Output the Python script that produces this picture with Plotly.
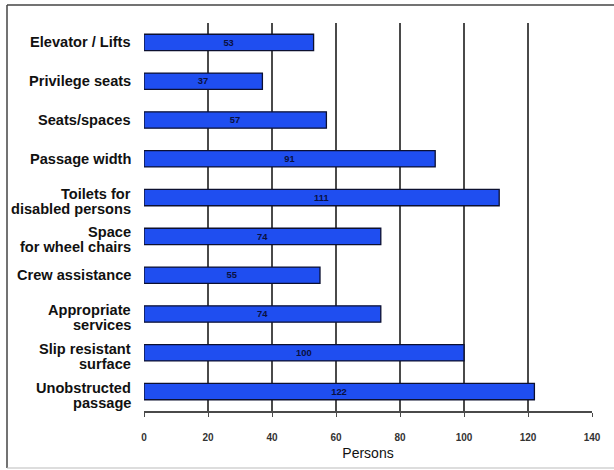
import plotly.graph_objects as go

# Survey responses: number of persons naming each facility
categories = [
    "Elevator / Lifts",
    "Privilege seats",
    "Seats/spaces",
    "Passage width",
    "Toilets for<br>disabled persons",
    "Space<br>for wheel chairs",
    "Crew assistance",
    "Appropriate<br>services",
    "Slip resistant<br>surface",
    "Unobstructed<br>passage",
]
persons = [53, 37, 57, 91, 111, 74, 55, 74, 100, 122]
x_ticks = [0, 20, 40, 60, 80, 100, 120, 140]

label_font = dict(family="Arial, Liberation Sans, sans-serif", size=14.6, color="#111111", weight="bold")

fig = go.Figure(
    go.Bar(
        y=categories,
        x=persons,
        orientation="h",
        width=0.42,
        marker=dict(color="#1f4ef0", line=dict(color="#0c1030", width=1.3)),
        text=[str(v) for v in persons],
        textposition="inside",
        insidetextanchor="middle",
        textangle=0,
        textfont=dict(family="Liberation Sans Narrow, Arial Narrow, sans-serif", size=10,
                      color="#0a1040", weight="bold"),
        cliponaxis=False,
    )
)

# category labels, one annotation per line so the line spacing stays tight
annotations = []
for cat in categories:
    lines = cat.split("<br>")
    n = len(lines)
    for i, line in enumerate(lines):
        shift = 0 if n == 1 else (4 - 15 * i)
        annotations.append(dict(
            text=line, x=0, xref="paper", xanchor="right", xshift=-11,
            y=cat, yref="y", yanchor="middle", yshift=shift,
            showarrow=False, font=label_font,
        ))

# frame around the figure: top, left and bottom edges
px0, px1, py_top, py_bot = 144, 592, 23, 411
def fx(p):
    return (p - px0) / (px1 - px0)
def fy(p):
    return (py_bot - p) / (py_bot - py_top)

frame = [
    dict(type="line", xref="paper", yref="paper", x0=fx(7), x1=fx(614), y0=fy(5), y1=fy(5),
         line=dict(color="#444444", width=1.5)),
    dict(type="line", xref="paper", yref="paper", x0=fx(7), x1=fx(7), y0=fy(5), y1=fy(468),
         line=dict(color="#444444", width=1.5)),
    dict(type="line", xref="paper", yref="paper", x0=fx(7), x1=fx(614), y0=fy(468), y1=fy(468),
         line=dict(color="#bbbbbb", width=1.2)),
]

fig.update_layout(
    width=614,
    height=470,
    margin=dict(l=px0, r=614 - px1, t=py_top, b=470 - py_bot),
    paper_bgcolor="white",
    plot_bgcolor="white",
    showlegend=False,
    xaxis=dict(
        range=[0, 140],
        tickvals=x_ticks,
        ticktext=[str(v) for v in x_ticks],
        showgrid=True,
        gridcolor="#4a4a4a",
        gridwidth=1.5,
        zeroline=False,
        showline=True,
        linecolor="#4a4a4a",
        linewidth=1.5,
        ticks="outside",
        ticklen=4,
        tickcolor="#4a4a4a",
        ticklabelstandoff=12,
        tickfont=dict(family="Liberation Sans Narrow, Arial Narrow, sans-serif", size=10,
                      color="#333333", weight="bold"),
        title=dict(text="Persons", font=dict(family="Arial, Liberation Sans, sans-serif", size=14,
                                              color="#111111"), standoff=6),
    ),
    yaxis=dict(
        autorange="reversed",
        showgrid=False,
        zeroline=False,
        showline=False,
        ticks="",
        showticklabels=False,
    ),
    annotations=annotations,
    shapes=frame,
)

fig.write_html("out.html")
